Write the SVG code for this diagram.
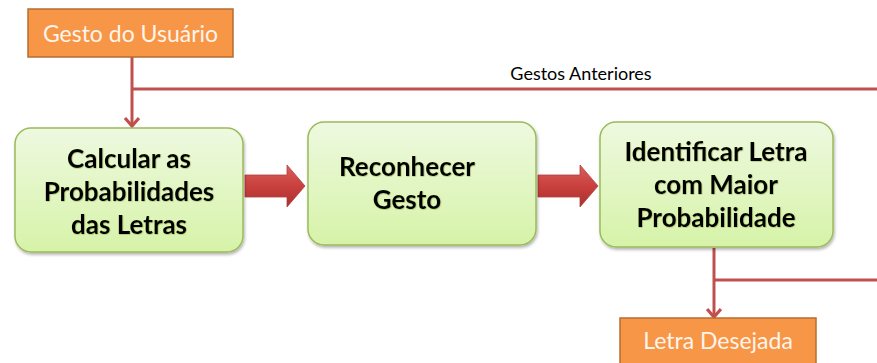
<svg xmlns="http://www.w3.org/2000/svg" width="877" height="363" viewBox="0 0 877 363">
<defs>
<linearGradient id="gGreen" x1="0" y1="0" x2="0" y2="1">
<stop offset="0" stop-color="#EEF9E0"/>
<stop offset="1" stop-color="#D6F3A8"/>
</linearGradient>
<linearGradient id="gRed" x1="0" y1="0" x2="0" y2="1">
<stop offset="0" stop-color="#D9605C"/>
<stop offset="0.5" stop-color="#C9403D"/>
<stop offset="1" stop-color="#A8302E"/>
</linearGradient>
<filter id="sh" x="-10%" y="-10%" width="130%" height="130%">
<feDropShadow dx="1" dy="2" stdDeviation="1.5" flood-color="#000" flood-opacity="0.3"/>
</filter>
<filter id="ts" x="-5%" y="-20%" width="110%" height="140%">
<feDropShadow dx="0.5" dy="0.5" stdDeviation="0.6" flood-color="#6a7a20" flood-opacity="0.6"/>
</filter>
<marker id="ah" viewBox="0 0 12 16" refX="10" refY="8" markerWidth="12" markerHeight="16" markerUnits="userSpaceOnUse" orient="auto">
<path d="M2,1 L10,8 L2,15" fill="none" stroke="#C0504D" stroke-width="3.2"/>
</marker>
</defs>
<style>
.green{fill:url(#gGreen);stroke:#9BBB59;stroke-width:1.5;filter:url(#sh)}
.orange{fill:#F79646;stroke:#B66D31;stroke-width:1.5}
.conn{fill:none;stroke:#C0504D;stroke-width:3}
.block{fill:url(#gRed);stroke:#B0403D;stroke-width:0.8}
.bt{font-family:Lato,"Open Sans","Liberation Sans",sans-serif;font-weight:bold;font-size:26px;fill:#000;text-anchor:middle;filter:url(#ts)}
.ot{font-family:Lato,"Open Sans","Liberation Sans",sans-serif;font-size:23px;fill:#FFF4EA;text-anchor:middle}
.lbl{font-family:Lato,"Open Sans","Liberation Sans",sans-serif;font-size:18px;fill:#000;text-anchor:middle}
</style>
<g id="connectors">
<path class="conn" d="M132,57 V126" marker-end="url(#ah)"/>
<path class="conn" d="M132,89 H877"/>
<path class="conn" d="M714,248 V317" marker-end="url(#ah)"/>
<path class="conn" d="M714,280 H877"/>
<path class="block" d="M245,175 H287 V165 L305,186 L287,207 V197 H245 Z"/>
<path class="block" d="M538,175 H580 V165 L598,186 L580,207 V197 H538 Z"/>
<text class="lbl" x="581" y="80">Gestos Anteriores</text>
</g>
<g id="gesto-usuario">
<rect class="orange" x="28" y="9" width="205" height="48"/>
<text class="ot" x="130.5" y="42">Gesto do Usuário</text>
</g>
<g id="calcular">
<rect class="green" x="15" y="128" width="228" height="124" rx="16"/>
<text class="bt" x="129" y="168">Calcular as</text>
<text class="bt" x="129" y="201">Probabilidades</text>
<text class="bt" x="129" y="234">das Letras</text>
</g>
<g id="reconhecer">
<rect class="green" x="308" y="122" width="228" height="123" rx="16"/>
<text class="bt" x="407" y="176">Reconhecer</text>
<text class="bt" x="407" y="209">Gesto</text>
</g>
<g id="identificar">
<rect class="green" x="600" y="122" width="233" height="125" rx="16"/>
<text class="bt" x="716" y="161">Identificar Letra</text>
<text class="bt" x="716" y="194">com Maior</text>
<text class="bt" x="716" y="227">Probabilidade</text>
</g>
<g id="letra-desejada">
<rect class="orange" x="620" y="318" width="196" height="50"/>
<text class="ot" x="718" y="349">Letra Desejada</text>
</g>
</svg>
